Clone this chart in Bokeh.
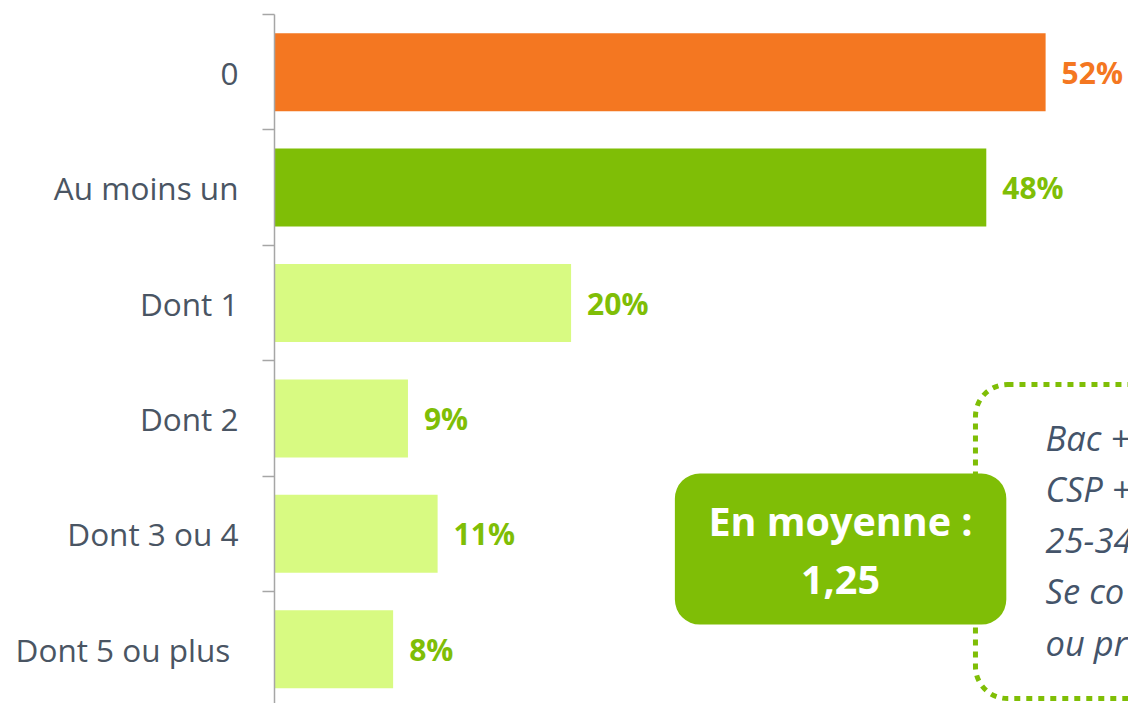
from bokeh.plotting import figure
from bokeh.models import Range1d, FixedTicker, BoxAnnotation, ColumnDataSource
from bokeh.core.properties import value
from bokeh.embed import file_html
from bokeh.resources import INLINE

# ---- data ----
categories = ["0", "Au moins un", "Dont 1", "Dont 2", "Dont 3 ou 4", "Dont 5 ou plus\u00a0"]
values = [52, 48, 20, 9, 11, 8]
value_labels = ["52%", "48%", "20%", "9%", "11%", "8%"]
bar_colors = ["#F47721", "#7FBE06", "#D8FA82", "#D8FA82", "#D8FA82", "#D8FA82"]
label_colors = ["#F47721", "#7FBE06", "#7FBE06", "#7FBE06", "#7FBE06", "#7FBE06"]
mean_text = "En moyenne :\n1,25"
profile_lines = ["Bac +", "CSP +", "25-34", "Se co", "ou pr"]

positions = list(range(len(categories)))

src = ColumnDataSource(dict(y=positions, v=values, lab=value_labels,
                            bc=bar_colors, lc=label_colors))

p = figure(width=1128, height=703, output_backend="svg", toolbar_location=None,
           x_range=Range1d(0, 57.59), y_range=Range1d(5.47, -0.5),
           min_border_left=274, min_border_right=0, min_border_top=14,
           min_border_bottom=0)
p.outline_line_color = None
p.xaxis.visible = False
p.xgrid.visible = False
p.ygrid.visible = False

# dotted rounded box (drawn first, behind the green box)
p.add_layout(BoxAnnotation(left=47.27, right=75, top=2.706, bottom=5.427,
                           fill_color=None, fill_alpha=0, line_color="#7FBE06",
                           line_alpha=1.0, line_width=5,
                           line_dash="6 6", border_radius=32, level="underlay"))

# green mean box
p.add_layout(BoxAnnotation(left=27.0, right=49.35, top=3.477, bottom=4.786,
                           fill_color="#7FBE06", fill_alpha=1.0, line_color=None,
                           border_radius=25, level="underlay"))

p.hbar(y="y", right="v", left=0, height=0.676, fill_color="bc", line_color=None, source=src)

p.text(x="v", y="y", text="lab", text_color="lc", x_offset=16,
       text_align="left", text_baseline="middle",
       text_font=value("Open Sans"), text_font_style="bold",
       text_font_size="30px", source=src)

p.text(x=[38.17], y=[4.14], text=[mean_text], text_color="white",
       text_align="center", text_baseline="middle", text_line_height=1.07,
       text_font=value("Open Sans"), text_font_style="bold", text_font_size="39.5px")

p.text(x=[52.0], y=[4.05], text=["\n".join(profile_lines)], text_color="#44546A",
       text_align="left", text_baseline="middle", text_line_height=1.09,
       text_font=value("Open Sans"), text_font_style="italic", text_font_size="34.5px")

# y axis: labels at category centres, ticks at boundaries
ax = p.yaxis[0]
ax.ticker = FixedTicker(ticks=positions, minor_ticks=[i - 0.5 for i in range(len(categories) + 1)])
ax.major_label_overrides = {i: c for i, c in zip(positions, categories)}
ax.major_tick_out = 0
ax.major_tick_in = 0
ax.minor_tick_out = 12
ax.minor_tick_in = 0
ax.minor_tick_line_color = "#A6A6A6"
ax.minor_tick_line_width = 1.5
ax.axis_line_color = "#A6A6A6"
ax.axis_line_width = 1.5
ax.major_label_standoff = 24
ax.major_label_text_font = "Open Sans"
ax.major_label_text_font_size = "31.5px"
ax.major_label_text_color = "#4A5563"

open("out.html", "w").write(file_html(p, INLINE))
